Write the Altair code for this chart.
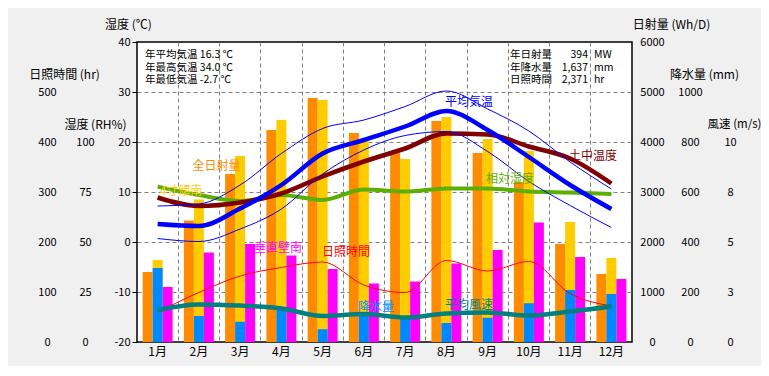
import altair as alt
import pandas as pd

# ---------------- data ----------------
months = ["1月", "2月", "3月", "4月", "5月", "6月", "7月", "8月", "9月", "10月", "11月", "12月"]

solar_total = [1400, 2430, 3360, 4240, 4880, 4180, 3780, 4420, 3780, 3200, 1960, 1360]   # 全日射量 (Wh/D)
solar_tilt = [1640, 2850, 3720, 4440, 4840, 4040, 3660, 4500, 4060, 3820, 2400, 1680]    # 4寸傾南 (Wh/D)
solar_wall = [1100, 1790, 1960, 1730, 1460, 1170, 1210, 1570, 1840, 2390, 1700, 1260]    # 垂直壁南 (Wh/D)
precip = [296, 104, 81, 128, 51, 112, 96, 76, 97, 155, 208, 192]                          # 降水量 (mm)
sunshine = [60, 99, 132, 149, 160, 114, 99, 163, 142, 161, 97, 72]                        # 日照時間 (hr)
wind = [1.60, 1.88, 1.82, 1.68, 1.30, 1.40, 1.22, 1.43, 1.48, 1.32, 1.52, 1.77]          # 平均風速 (m/s)
temp_avg = [3.6, 3.2, 6.7, 11.4, 17.7, 20.4, 23.1, 26.2, 22.4, 17.0, 11.4, 6.6]         # 平均気温
temp_max = [7.2, 7.6, 11.4, 17.7, 22.7, 24.4, 27.1, 30.2, 26.6, 22.2, 16.0, 10.6]
temp_min = [0.7, 0.1, 2.6, 6.6, 13.6, 18.4, 21.3, 22.1, 18.1, 12.1, 7.3, 2.9]
soil_temp = [8.9, 7.2, 7.9, 9.7, 13.1, 16.1, 18.7, 21.7, 21.5, 19.1, 16.7, 11.7]        # 土中温度
humidity = [77.7, 73.5, 70.5, 73.5, 71.0, 76.3, 75.2, 76.8, 76.8, 75.2, 74.7, 74.0]    # 相対湿度 (RH%)

temp_ticks = [-20, -10, 0, 10, 20, 30, 40]
sun_ticks = [0, 100, 200, 300, 400, 500]
rh_ticks = [0, 25, 50, 75, 100]
solar_ticks = [0, 1000, 2000, 3000, 4000, 5000, 6000]
precip_ticks = [0, 200, 400, 600, 800, 1000]
wind_ticks = [0, 2.5, 5, 7.5, 10]

summary_left = ["年平均気温 16.3 ℃", "年最高気温 34.0 ℃", "年最低気温 -2.7 ℃"]
summary_right_labels = ["年日射量", "年降水量", "日照時間"]
summary_right_values = ["394", "1,637", "2,371"]
summary_right_units = ["MW", "mm", "hr"]

# ---------------- tables ----------------
idx = list(range(12))
base = pd.DataFrame({"month": months, "idx": idx, "sunshine": sunshine, "wind": wind,
                     "humidity": humidity, "precip": precip, "slot": ["b"] * 12})
bars_df = pd.DataFrame({
    "month": months * 3,
    "idx": idx * 3,
    "series": ["全日射量"] * 12 + ["4寸傾南"] * 12 + ["垂直壁南"] * 12,
    "slot": ["a"] * 12 + ["b"] * 12 + ["c"] * 12,
    "value": solar_total + solar_tilt + solar_wall,
})
temp_df = pd.DataFrame({
    "month": months * 4,
    "idx": idx * 4,
    "series": ["avg"] * 12 + ["max"] * 12 + ["min"] * 12 + ["soil"] * 12,
    "value": temp_avg + temp_max + temp_min + soil_temp,
})
one = pd.DataFrame({"k": [0]})

FONT = "Noto Sans CJK JP"
GRID = "#808080"
W, H = 495, 300
TICK_FS = 11

x_enc = alt.X(
    "month:N",
    scale=alt.Scale(domain=months, paddingInner=0, paddingOuter=0),
    axis=alt.Axis(title=None, labelAngle=0, bandPosition=0,
                  ticks=False, tickSize=0, domain=False, grid=True, gridColor=GRID,
                  gridDash=[4, 3],
                  gridOpacity={"condition": {"test": "datum.value === '1月'", "value": 0}, "value": 1},
                  labelPadding=4, labelFontSize=12, labelOverlap=False),
)
xoff = alt.XOffset("slot:N", scale=alt.Scale(domain=["a", "b", "c"], paddingInner=0, paddingOuter=0.5625))
order = alt.Order("idx:Q")


def side_axis(title, values, orient, offset, tx, ty, fmt_expr="datum.value + ''", title_fs=12):
    return alt.Axis(title=title, values=values, orient=orient, offset=offset, ticks=False, tickSize=0,
                    labelPadding=0, labelAlign="center", domain=False, grid=False, labelOverlap=False,
                    labelFontSize=TICK_FS, labelExpr=fmt_expr, titleFontSize=title_fs,
                    titleAngle=0, titleAlign="center", titleBaseline="middle", titleX=tx, titleY=ty)


# ---------------- bars ----------------
solar_bars = alt.Chart(bars_df).mark_bar().encode(
    x=x_enc, xOffset=xoff,
    y=alt.Y("value:Q", scale=alt.Scale(domain=[0, 6000], nice=False),
            axis=side_axis("日射量 (Wh/D)", solar_ticks, "right", 20, 19, -18)),
    color=alt.Color("series:N", legend=None,
                    scale=alt.Scale(domain=["全日射量", "4寸傾南", "垂直壁南"],
                                    range=["#FF8C00", "#FFCC00", "#FF00FF"])),
)
precip_bars = alt.Chart(base).mark_bar(color="#0088FF").encode(
    x=x_enc, xOffset=xoff,
    y=alt.Y("precip:Q", scale=alt.Scale(domain=[0, 1200], nice=False),
            axis=side_axis("降水量 (mm)", precip_ticks, "right", 58, 14, 32)),
)

# ---------------- lines ----------------
y_temp = alt.Y("value:Q", scale=alt.Scale(domain=[-20, 40], nice=False),
               axis=alt.Axis(title="湿度 (℃)", values=temp_ticks, orient="left", tickSize=5,
                             tickColor="black", labelPadding=2, domain=False, grid=True,
                             gridColor=GRID, gridDash=[4, 3], labelOverlap=False,
                             labelFontSize=TICK_FS,
                             gridOpacity={"condition": {"test": "datum.value == -20 || datum.value == 40",
                                                        "value": 0}, "value": 1},
                             labelExpr="datum.value + ''",
                             titleAngle=0, titleAlign="center", titleBaseline="middle",
                             titleX=-9, titleY=-18))


def temp_line(series, color, width):
    return alt.Chart(temp_df).transform_filter(alt.datum.series == series).mark_line(
        color=color, strokeWidth=width, interpolate="monotone").encode(x=x_enc, y=y_temp, order=order)


temp_layer = alt.layer(
    temp_line("soil", "#800000", 4.5),
    temp_line("max", "#0000FF", 1),
    temp_line("min", "#0000FF", 1),
    temp_line("avg", "#0000FF", 4.5),
)

sun_line = alt.Chart(base).mark_line(color="#FF0000", strokeWidth=1, interpolate="monotone").encode(
    x=x_enc, order=order,
    y=alt.Y("sunshine:Q", scale=alt.Scale(domain=[0, 600], nice=False),
            axis=side_axis("日照時間 (hr)", sun_ticks, "left", 90, 17, 32)))
wind_line = alt.Chart(base).mark_line(color="#008080", strokeWidth=4.5, interpolate="monotone").encode(
    x=x_enc, order=order,
    y=alt.Y("wind:Q", scale=alt.Scale(domain=[0, 15], nice=False),
            axis=side_axis("風速 (m/s)", wind_ticks, "right", 98, 4, 82, "format(datum.value, '.0f')",
                           title_fs=11.5)))
rh_line = alt.Chart(base).mark_line(color="#5AAF00", strokeWidth=4, interpolate="monotone").encode(
    x=x_enc, order=order,
    y=alt.Y("humidity:Q", scale=alt.Scale(domain=[0, 150], nice=False),
            axis=side_axis("湿度 (RH%)", rh_ticks, "left", 52, 10, 82)))


# ---------------- annotations ----------------
def label(text, px, py, color, align="center", baseline="middle", size=12, line_height=None):
    kw = dict(text=text, color=color, align=align, baseline=baseline, fontSize=size, font=FONT)
    if line_height:
        kw["lineHeight"] = line_height
    return alt.Chart(one).mark_text(**kw).encode(x=alt.value(px), y=alt.value(py))


labels = [
    label("全日射量", 79.5, 123.5, "#FF8C00"),
    label("4寸傾南", 44, 149, "#FFCC00"),
    label("垂直壁南", 141, 206, "#FF00FF"),
    label("日照時間", 209, 210, "#FF0000"),
    label("降水量", 239, 265, "#0090FF"),
    label("平均風速", 332, 263, "#008080"),
    label("相対湿度", 373, 137, "#5AAF00"),
    label("土中温度", 456, 114, "#800000"),
    label("平均気温", 332, 60, "#0000FF"),
    label(summary_left, 8, 8, "black", align="left", baseline="top", size=10.5, line_height=12.5),
    label(summary_right_labels, 373, 8, "black", align="left", baseline="top", size=10.5, line_height=12.5),
    label(summary_right_values, 451, 8, "black", align="right", baseline="top", size=10.5, line_height=12.5),
    label(summary_right_units, 457, 8, "black", align="left", baseline="top", size=10.5, line_height=12.5),
]

chart = alt.layer(
    solar_bars, precip_bars, sun_line, wind_line, rh_line, temp_layer, *labels
).resolve_scale(y="independent").properties(
    width=W, height=H, background="#F0F0F0",
    autosize=alt.AutoSizeParams(type="none"),
    padding={"left": 129, "top": 34, "right": 129, "bottom": 24},
).configure_view(
    stroke="black", strokeWidth=1.5, fill="white"
).configure_axis(
    labelFont=FONT, titleFont=FONT, labelColor="black", titleColor="black",
    titleFontWeight="normal", labelFontSize=12, titleFontSize=12,
)

chart.save("out.html", embed_options={"renderer": "svg", "actions": False})
